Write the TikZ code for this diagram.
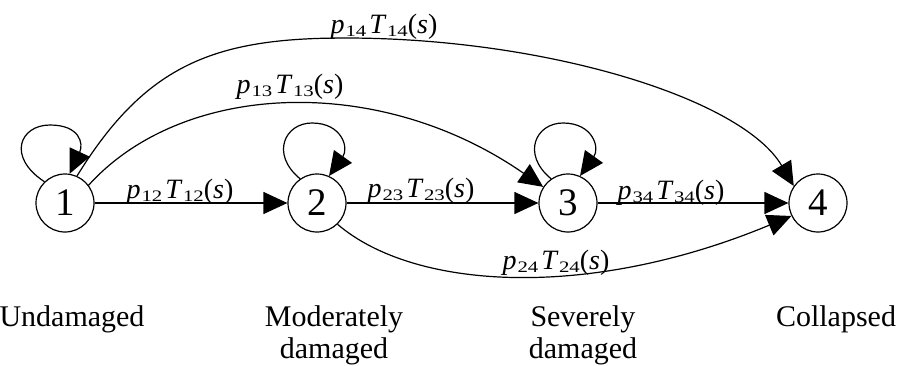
\documentclass[tikz,border=0pt]{standalone}
\usepackage{fontspec}
\usepackage{graphicx}
\setmainfont{Liberation Serif}
\usetikzlibrary{arrows.meta,calc}
\newcommand\subn[1]{\raisebox{-3.5pt}{\scalebox{1.3}[1]{\fontsize{16}{16}\selectfont #1}}}
\newcommand\pTlab[1]{\textit{p}\kern1pt\subn{#1}\kern3pt\textit{T}\kern0.5pt\subn{#1}(\textit{s})}
\begin{document}
\begin{tikzpicture}[x=1pt,y=-1pt,
  state/.style={circle,draw,line width=1.2pt,minimum size=58pt,inner sep=0pt,font=\fontsize{39}{39}\selectfont},
  edge/.style={line width=1.2pt,-{Triangle[length=24pt,width=22pt]}},
  lab/.style={font=\fontsize{28}{28}\selectfont,inner sep=0pt,anchor=base},
  capt/.style={font=\fontsize{30}{32}\selectfont,align=center,inner sep=0pt,anchor=north}]
\useasboundingbox (0,0) rectangle (906,365);

% states
\node[state] (n1) at (65,203) {1};
\node[state] (n2) at (317,203) {2};
\node[state] (n3) at (568,203) {3};
\node[state] (n4) at (818,203) {4};

% captions
\node[capt] (c1) at (72,305) {Undamaged};
\node[capt] (c2) at (334,305) {Moderately\\damaged};
\node[capt] (c3) at (583,305) {Severely\\damaged};
\node[capt] (c4) at (836,305) {Collapsed};

% helper coordinates
\coordinate (t1) at ($(n1)+(-15,-78)$);
\coordinate (t2) at ($(n2)+(-5,-80)$);
\coordinate (t3) at ($(n3)+(-5,-80)$);
\coordinate (pk14) at (345,38);

% self loops
\draw[edge] (n1.134) .. controls +(-38,-25) and +(-30,0) .. (t1)
                     .. controls +(30,0) and +(14,-30) .. (n1.81);
\draw[edge] (n2.125) .. controls +(-30,-25) and +(-27,0) .. (t2)
                     .. controls +(30,0) and +(20,-28) .. (n2.66);
\draw[edge] (n3.125) .. controls +(-30,-25) and +(-27,0) .. (t3)
                     .. controls +(30,0) and +(20,-28) .. (n3.66);

% straight transitions
\draw[edge] (n1) -- (n2);
\draw[edge] (n2) -- (n3);
\draw[edge] (n3) -- (n4);

% curved transitions
\draw[edge] (n1.37) .. controls +(94,-104) and +(-164,-114) .. (n3.147);
\draw[edge] (n1.66) .. controls +(69,-112) and +(-130,0) .. (pk14)
                    .. controls +(200,0) and +(-52,-88) .. (n4.145);
\draw[edge] (n2.-46) .. controls +(77,66) and +(-202,84) .. (n4.206);

% labels
\node[lab] (l12) at (180,198) {\pTlab{12}};
\node[lab] (l23) at (421,197) {\pTlab{23}};
\node[lab] (l34) at (671,199) {\pTlab{34}};
\node[lab] (l13) at (290,93) {\pTlab{13}};
\node[lab] (l14) at (384,33) {\pTlab{14}};
\node[lab] (l24) at (556,269) {\pTlab{24}};
\end{tikzpicture}
\end{document}
